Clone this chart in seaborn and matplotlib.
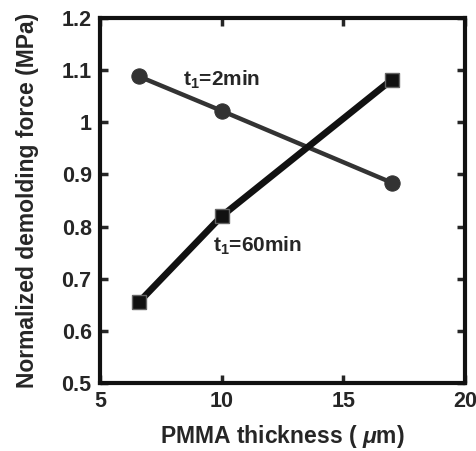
import matplotlib
matplotlib.use('Agg')
import matplotlib.pyplot as plt
import pandas as pd
import seaborn as sns

thickness = [6.6, 10, 17]
force_2min = [1.088, 1.022, 0.884]
force_60min = [0.655, 0.82, 1.082]

df = pd.DataFrame({
    'thickness': thickness * 2,
    'force': force_2min + force_60min,
    'series': ['2min'] * 3 + ['60min'] * 3,
})

sns.set_style('ticks')
plt.rcParams['font.family'] = ['Liberation Sans', 'DejaVu Sans']
plt.rcParams['font.weight'] = 'bold'
plt.rcParams['mathtext.fontset'] = 'custom'
plt.rcParams['mathtext.rm'] = 'Liberation Sans:bold'
plt.rcParams['mathtext.bf'] = 'Liberation Sans:bold'
plt.rcParams['mathtext.it'] = 'Liberation Sans:bold:italic'

fig = plt.figure(figsize=(4.77, 4.51), dpi=100)
ax = fig.add_axes([100 / 477, 68 / 451, 365 / 477, 365 / 451])

sns.lineplot(data=df[df['series'] == '2min'], x='thickness', y='force', ax=ax,
             color='#333333', lw=3.2, marker='o', markersize=11,
             markeredgecolor='#333333', legend=False)
sns.lineplot(data=df[df['series'] == '60min'], x='thickness', y='force', ax=ax,
             color='#111111', lw=4.8, marker='s', markersize=10,
             markeredgecolor='#666666', markeredgewidth=1, legend=False)

ax.text(8.4, 1.071, 't$_\\mathbf{1}$=2min', fontsize=15, fontweight='bold')
ax.text(9.65, 0.752, 't$_\\mathbf{1}$=60min', fontsize=15, fontweight='bold')

ax.set_xlim(5, 20)
ax.set_ylim(0.5, 1.2)
ax.set_xticks([5, 10, 15, 20])
ax.set_yticks([0.5, 0.6, 0.7, 0.8, 0.9, 1.0, 1.1, 1.2])
ax.set_yticklabels(['0.5', '0.6', '0.7', '0.8', '0.9', '1', '1.1', '1.2'])
ax.tick_params(direction='in', length=6, width=2.5, top=True, right=True,
               labelsize=15.5, pad=6)
for lab in ax.get_xticklabels() + ax.get_yticklabels():
    lab.set_fontweight('bold')
for s in ax.spines.values():
    s.set_linewidth(3)
    s.set_color('#111111')

ax.set_xlabel('PMMA thickness ( $\\mu$m)', fontsize=16.5, fontweight='bold', labelpad=8)
ax.set_ylabel('Normalized demolding force (MPa)', fontsize=16.5, fontweight='bold', labelpad=16)

fig.savefig('out.png', dpi=100)
